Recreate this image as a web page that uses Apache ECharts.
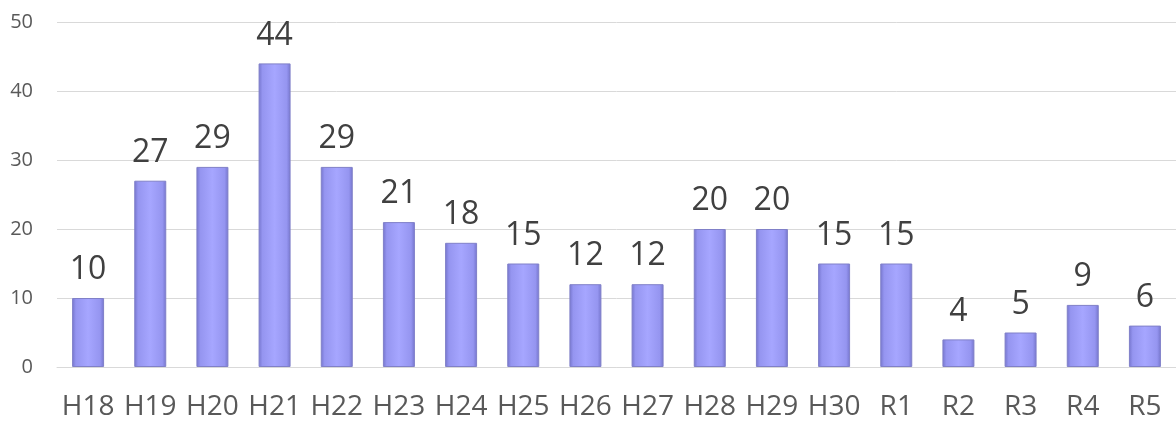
<!DOCTYPE html>
<html>
<head>
<meta charset="utf-8">
<script src="https://cdn.jsdelivr.net/npm/echarts@6/dist/echarts.min.js"></script>
<style>
html,body{margin:0;padding:0;background:#fff;}
#chart{width:1176px;height:421px;}
</style>
</head>
<body>
<div id="chart"></div>
<script>
const categories = ['H18','H19','H20','H21','H22','H23','H24','H25','H26','H27','H28','H29','H30','R1','R2','R3','R4','R5'];
const values = [10,27,29,44,29,21,18,15,12,12,20,20,15,15,4,5,9,6];
const yTicks = [0,10,20,30,40,50];

const chart = echarts.init(document.getElementById('chart'));
chart.setOption({
  animation: false,
  grid: { left: 57, right: -5, top: 22, bottom: 54 },
  xAxis: {
    type: 'category',
    data: categories,
    axisLine: { lineStyle: { color: '#d9d9d9', width: 1 } },
    axisTick: { show: false },
    axisLabel: { color: '#595959', fontSize: 28, fontFamily: 'Open Sans', margin: 26, interval: 0, hideOverlap: false }
  },
  yAxis: {
    type: 'value',
    min: yTicks[0],
    max: yTicks[yTicks.length - 1],
    interval: 10,
    axisLine: { show: false },
    axisTick: { show: false },
    splitLine: { lineStyle: { color: '#d9d9d9', width: 1 } },
    axisLabel: { color: '#595959', fontSize: 20, fontFamily: 'Open Sans', margin: 24 }
  },
  series: [{
    type: 'bar',
    data: values,
    barWidth: 32,
    itemStyle: {
      color: new echarts.graphic.LinearGradient(0, 0, 1, 0, [
        { offset: 0, color: '#7474cc' },
        { offset: 0.12, color: '#9595f0' },
        { offset: 0.5, color: '#a6a6ff' },
        { offset: 0.88, color: '#9595f0' },
        { offset: 1, color: '#7474cc' }
      ]),
      borderColor: '#8080c8',
      borderWidth: 1
    },
    label: {
      show: true,
      position: 'top',
      distance: 12,
      color: '#404040',
      fontSize: 32,
      fontFamily: 'Open Sans'
    }
  }]
});
</script>
</body>
</html>
